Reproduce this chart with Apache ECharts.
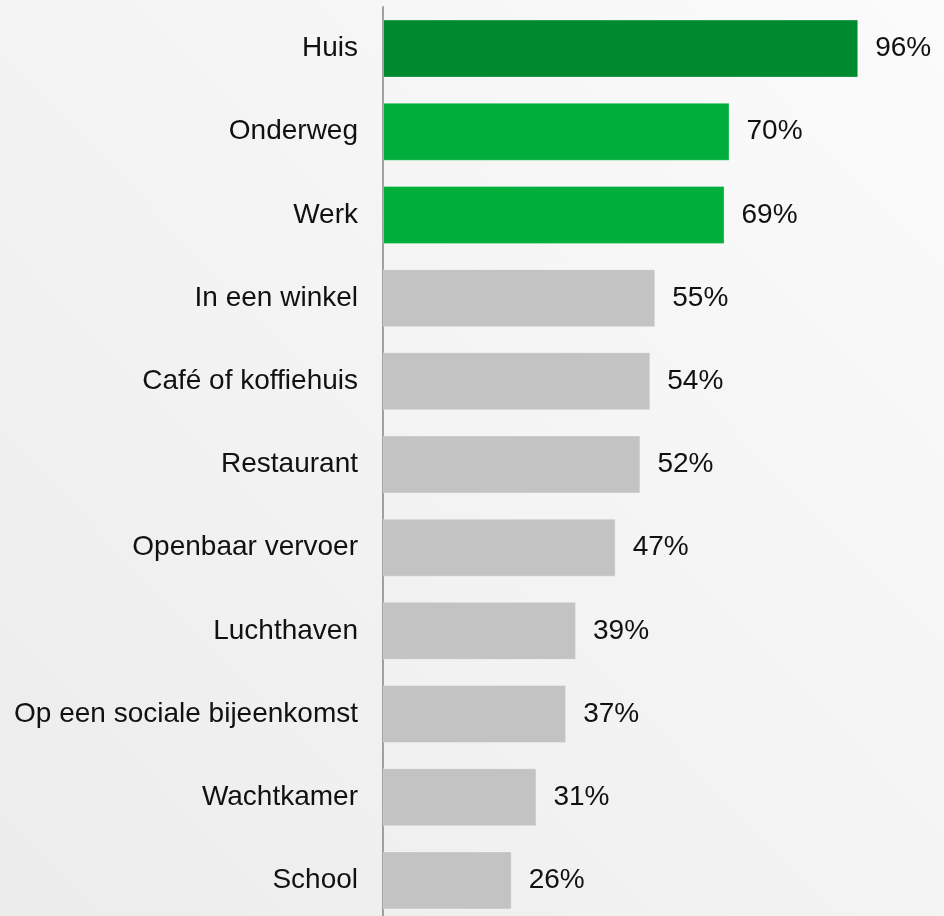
<!DOCTYPE html>
<html>
<head>
<meta charset="utf-8">
<title>Locaties</title>
<style>
html, body { margin: 0; padding: 0; }
#main { width: 944px; height: 916px; }
</style>
</head>
<body>
<div id="main"></div>
<script src="https://cdn.jsdelivr.net/npm/echarts@6/dist/echarts.min.js"></script>
<script>
// categorieën (boven naar beneden)
var categories = ['Huis', 'Onderweg', 'Werk', 'In een winkel', 'Café of koffiehuis', 'Restaurant',
    'Openbaar vervoer', 'Luchthaven', 'Op een sociale bijeenkomst', 'Wachtkamer', 'School'];
var values = [96, 70, 69, 55, 54, 52, 47, 39, 37, 31, 26];
var barColors = ['#008a2f', '#00ae3b', '#00ae3b', '#c3c3c3', '#c3c3c3', '#c3c3c3',
    '#c3c3c3', '#c3c3c3', '#c3c3c3', '#c3c3c3', '#c3c3c3'];

var myChart = echarts.init(document.getElementById('main'));

var option = {
    backgroundColor: {
        type: 'linear', x: 1, y: 0, x2: 0, y2: 1,
        colorStops: [{ offset: 0, color: '#fbfbfb' }, { offset: 1, color: '#ececec' }]
    },
    grid: {
        left: 383,
        top: 7,
        width: 495,
        height: 915,
        outerBoundsMode: 'none'
    },
    xAxis: {
        type: 'value',
        min: 0,
        max: 100,
        show: false
    },
    yAxis: {
        type: 'category',
        inverse: true,
        data: categories,
        axisLine: { lineStyle: { color: '#a0a0a0', width: 2 } },
        axisTick: { show: false },
        axisLabel: {
            margin: 25,
            padding: [3, 0, 0, 0],
            fontFamily: 'Arial',
            fontSize: 28,
            color: '#111'
        }
    },
    series: [{
        type: 'bar',
        barWidth: 58,
        data: values.map(function (v, i) {
            return { value: v, itemStyle: { color: barColors[i] } };
        }),
        itemStyle: { borderColor: 'rgba(255,255,255,0.3)', borderWidth: 1 },
        label: {
            show: true,
            position: 'right',
            distance: 17,
            padding: [3, 0, 0, 0],
            formatter: '{c}%',
            fontFamily: 'Arial',
            fontSize: 28,
            color: '#111'
        },
        silent: true
    }]
};

myChart.setOption(option);
</script>
</body>
</html>
